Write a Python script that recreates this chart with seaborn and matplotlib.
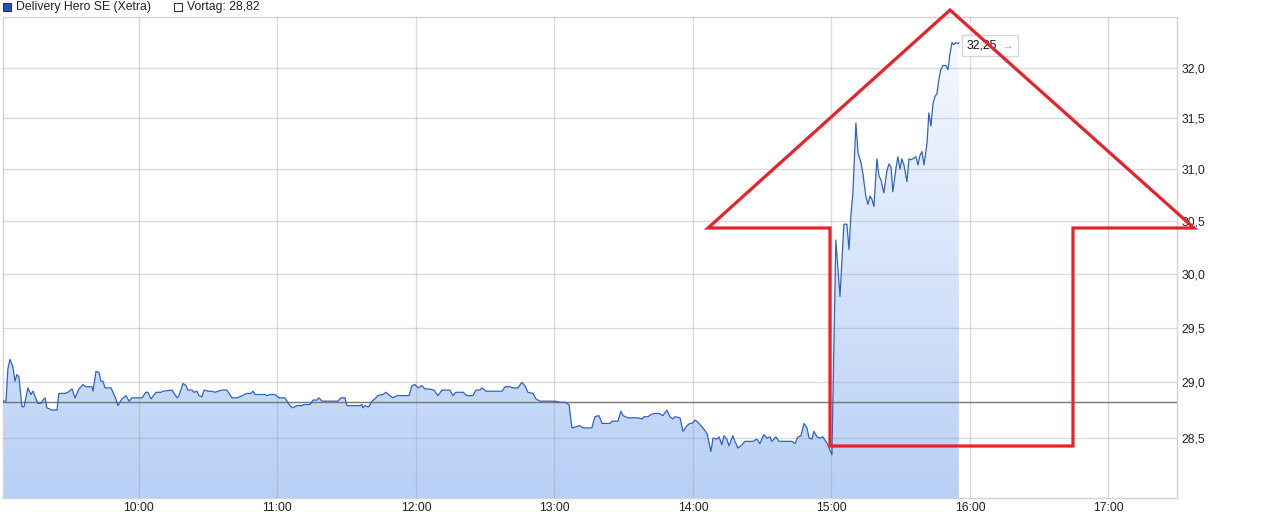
import matplotlib
matplotlib.use("Agg")
import matplotlib.pyplot as plt
import numpy as np
import pandas as pd
import seaborn as sns
from matplotlib.colors import LinearSegmentedColormap
from matplotlib.offsetbox import AnnotationBbox, HPacker, TextArea
from matplotlib.patches import Polygon, Rectangle

# intraday Xetra prices, time given as minutes after 09:00
morning_min = [1.1, 2.4, 3.2, 4.1, 5.4, 6.3, 7.1, 8.0, 9.3, 10.2,
               11.9, 13.2, 14.1, 16.2, 17.5, 18.4, 19.3, 20.1, 22.3, 24.5,
               25.3, 27.9, 29.2, 31.0, 32.3, 34.0, 35.7, 37.0, 39.6, 40.1,
               41.4, 42.7, 43.5, 44.4, 45.3, 47.9, 49.6, 50.9, 52.6, 54.4,
               55.7, 57.0, 61.3, 63.0, 63.9, 65.2, 67.4, 69.5, 70.4, 74.3,
               76.5, 77.3, 79.1, 80.4, 81.2, 83.0, 83.8, 85.1, 86.0, 87.3,
               88.2, 89.9, 91.6, 92.9, 94.2, 96.0, 98.1, 100.3, 102.5, 103.8]
morning_px = [28.83, 28.83, 29.12, 29.21, 29.14, 29.01, 29.07, 29.05, 28.78, 28.78,
              28.95, 28.89, 28.92, 28.81, 28.81, 28.84, 28.86, 28.77, 28.75, 28.75,
              28.90, 28.90, 28.91, 28.94, 28.86, 28.94, 28.98, 28.96, 28.96, 28.92,
              29.10, 29.09, 29.01, 29.01, 28.95, 28.95, 28.87, 28.79, 28.85, 28.88,
              28.83, 28.86, 28.86, 28.91, 28.91, 28.85, 28.91, 28.91, 28.92, 28.93,
              28.86, 28.88, 28.99, 28.97, 28.93, 28.93, 28.91, 28.92, 28.88, 28.87,
              28.93, 28.92, 28.92, 28.91, 28.92, 28.93, 28.93, 28.86, 28.86, 28.87]

midday_min = [104.6, 106.8, 108.5, 109.4, 110.3, 113.3, 114.6, 115.4, 116.8, 118.9,
              120.6, 123.2, 125.4, 126.7, 128.4, 130.6, 131.5, 134.1, 135.4, 137.1,
              138.0, 139.3, 146.2, 147.5, 149.2, 150.1, 155.7, 156.6, 157.0, 157.9,
              158.8, 159.6, 160.9, 162.2, 163.5, 165.7, 167.0, 168.7, 170.0, 171.8,
              177.0, 178.3, 179.6, 180.9, 182.6, 183.9, 185.6, 187.8, 189.5, 191.3,
              194.7, 196.0, 197.3, 200.4, 202.1, 204.7, 206.0, 207.7, 208.6, 210.3,
              217.3, 218.6, 220.7, 222.0, 224.2, 225.9, 227.2, 228.5, 230.7, 232.0,
              233.7, 240.2, 242.4]
midday_px = [28.88, 28.90, 28.90, 28.92, 28.89, 28.89, 28.89, 28.88, 28.89, 28.89,
             28.86, 28.86, 28.79, 28.77, 28.79, 28.79, 28.80, 28.80, 28.84, 28.84,
             28.86, 28.83, 28.83, 28.86, 28.86, 28.79, 28.79, 28.80, 28.77, 28.79,
             28.78, 28.78, 28.83, 28.85, 28.88, 28.89, 28.91, 28.88, 28.86, 28.88,
             28.88, 28.97, 28.98, 28.95, 28.97, 28.94, 28.94, 28.93, 28.88, 28.93,
             28.93, 28.88, 28.91, 28.91, 28.88, 28.88, 28.93, 28.93, 28.95, 28.92,
             28.92, 28.96, 28.96, 28.95, 28.95, 29.00, 28.97, 28.91, 28.90, 28.85,
             28.83, 28.83, 28.82]

afternoon_min = [244.5, 246.3, 247.6, 249.3, 251.0, 252.3, 256.2, 257.5, 259.3, 260.6,
                 264.0, 264.9, 267.5, 268.8, 269.7, 271.8, 276.2, 277.9, 278.8, 280.5,
                 281.8, 283.5, 285.3, 287.0, 288.7, 290.0, 291.3, 292.2, 294.4, 295.7,
                 297.4, 298.7, 299.6, 300.9, 302.2, 304.3, 306.1, 307.8, 308.7, 310.4,
                 311.3, 312.5, 313.4, 314.7, 315.6, 317.3, 318.2, 319.5, 321.2, 322.5,
                 326.0, 327.7, 329.0, 330.7, 332.0, 333.4, 334.2, 335.9, 337.3, 340.7,
                 342.9, 344.2, 345.5, 346.8, 348.1, 349.4, 350.3, 351.5, 352.4, 353.7,
                 355.0, 356.3, 357.2, 358.0]
afternoon_px = [28.82, 28.80, 28.59, 28.60, 28.61, 28.59, 28.59, 28.69, 28.70, 28.63,
                28.63, 28.65, 28.65, 28.74, 28.70, 28.68, 28.68, 28.67, 28.69, 28.69,
                28.71, 28.72, 28.72, 28.70, 28.75, 28.69, 28.67, 28.69, 28.68, 28.56,
                28.61, 28.63, 28.63, 28.66, 28.64, 28.59, 28.54, 28.38, 28.50, 28.49,
                28.51, 28.44, 28.52, 28.49, 28.43, 28.52, 28.47, 28.41, 28.44, 28.47,
                28.47, 28.49, 28.45, 28.53, 28.50, 28.51, 28.47, 28.51, 28.47, 28.47,
                28.47, 28.45, 28.51, 28.52, 28.63, 28.59, 28.50, 28.49, 28.56, 28.51,
                28.50, 28.51, 28.48, 28.46]

rally_min = [360.2, 361.9, 363.7, 365.4, 366.7, 367.6, 368.4, 369.3, 370.6, 371.5,
             372.8, 373.6, 374.9, 375.8, 376.7, 377.5, 378.4, 379.7, 380.6, 381.4,
             382.7, 384.0, 384.9, 385.8, 386.6, 387.9, 388.8, 389.7, 390.5, 391.4,
             392.7, 393.6, 394.4, 395.3, 396.6, 397.5, 398.3, 399.2, 400.1, 401.4,
             402.2, 403.1, 404.0, 404.8, 405.7, 406.6, 407.4, 408.3, 409.6, 410.5,
             411.3, 412.2, 413.0, 413.9, 414.8, 415.2]
rally_px = [28.35, 30.32, 29.79, 30.47, 30.47, 30.23, 30.55, 30.77, 31.45, 31.16,
            31.06, 30.96, 30.74, 30.66, 30.74, 30.71, 30.64, 31.10, 30.93, 30.90,
            30.77, 30.98, 31.05, 31.02, 30.78, 31.00, 31.12, 31.00, 31.10, 31.04,
            30.88, 31.10, 31.09, 31.10, 31.12, 31.04, 31.13, 31.17, 31.04, 31.25,
            31.55, 31.42, 31.64, 31.71, 31.74, 31.89, 31.98, 32.02, 32.02, 31.98,
            32.13, 32.25, 32.23, 32.25, 32.24, 32.25]

prev_close = 28.82
last_label = "32,25"
hour_ticks = [60, 120, 180, 240, 300, 360, 420, 480]
hour_labels = ["10:00", "11:00", "12:00", "13:00", "14:00", "15:00", "16:00", "17:00"]
price_ticks = [28.5, 29.0, 29.5, 30.0, 30.5, 31.0, 31.5, 32.0]

# hand drawn red arrow on top of the chart, figure pixels from top-left
arrow_px = [(708, 228), (950, 10), (1194, 228), (1073, 228),
            (1073, 446), (830, 446), (830, 228)]

W, H = 1268, 521
FS = 8.8

df = pd.DataFrame({
    "t": morning_min + midday_min + afternoon_min + rally_min,
    "price": morning_px + midday_px + afternoon_px + rally_px,
})

sns.set_theme(style="white")
plt.rcParams["font.family"] = ["Liberation Sans", "DejaVu Sans"]

fig = plt.figure(figsize=(W / 100, H / 100), dpi=100)
ax = fig.add_axes([3 / W, 23 / H, 1174 / W, 481 / H])
ax.set_yscale("log")

# gradient area under the line
cmap = LinearSegmentedColormap.from_list("area", ["#f8fbff", "#b8d0f6"])
grad = np.linspace(0, 1, 256).reshape(-1, 1)
im = ax.imshow(grad, cmap=cmap, aspect="auto", extent=[0, 1, 0, 1],
               transform=ax.transAxes, zorder=1, interpolation="bilinear")
area = ax.fill_between(df["t"], df["price"], 27.0, facecolor="none", edgecolor="none")
im.set_clip_path(area.get_paths()[0], transform=ax.transData)

ax.axhline(prev_close, color="#777777", linewidth=1.0, zorder=2.6)
sns.lineplot(data=df, x="t", y="price", ax=ax, color="#2f63c8",
             linewidth=0.9, estimator=None, sort=False, zorder=3)

ax.set_xlim(1.1, 509.7)
ax.set_ylim(27.97, 32.51)

ax.set_xticks(hour_ticks)
ax.set_xticklabels(hour_labels)
ax.yaxis.tick_right()
ax.set_yticks(price_ticks)
ax.yaxis.set_minor_locator(matplotlib.ticker.NullLocator())
ax.set_yticklabels([f"{v:.1f}".replace(".", ",") for v in price_ticks])
ax.tick_params(axis="both", length=0, labelsize=FS, labelcolor="#222222")
ax.tick_params(axis="x", pad=3)
ax.tick_params(axis="y", pad=3)
ax.set_xlabel("")
ax.set_ylabel("")

ax.set_axisbelow(False)
ax.grid(True, which="major", color="#999999", alpha=0.35, linewidth=1.0)
for sp in ax.spines.values():
    sp.set_color("#d4d4d4")
    sp.set_linewidth(1.0)

# last price tag: value plus small grey arrow in one framed box
t_last, p_last = df["t"].iloc[-1], df["price"].iloc[-1]
tag = HPacker(children=[
    TextArea(last_label, textprops=dict(fontsize=FS, color="#111111")),
    TextArea("\u2192", textprops=dict(fontsize=FS, color="#b0b0b0", fontweight="bold")),
], align="center", pad=0, sep=3)
ab = AnnotationBbox(tag, (t_last, p_last), xybox=(8, -3), boxcoords="offset pixels",
                    box_alignment=(0, 0.5), frameon=True, pad=0.3,
                    bboxprops=dict(boxstyle="square", fc="white", ec="#d6d6d6", lw=1.0),
                    annotation_clip=False, zorder=5)
ax.add_artist(ab)

# legend row above the plot
fig.patches.append(Rectangle((3 / W, 1 - 11 / H), 8 / W, 8 / H, transform=fig.transFigure,
                             fc="#1f56c2", ec="#333333", lw=0.8))
fig.text(16 / W, 1 - 7 / H, "Delivery Hero SE (Xetra)", fontsize=FS,
         color="#222222", va="center", ha="left")
fig.patches.append(Rectangle((174 / W, 1 - 11 / H), 8 / W, 8 / H, transform=fig.transFigure,
                             fc="white", ec="#333333", lw=0.8))
fig.text(187 / W, 1 - 7 / H, "Vortag: " + f"{prev_close:.2f}".replace(".", ","), fontsize=FS,
         color="#222222", va="center", ha="left")

# red arrow overlay
pts = [(x / W, 1 - y / H) for x, y in arrow_px]
fig.patches.append(Polygon(pts, closed=True, fill=False, ec="#e8212a", lw=2.3,
                           joinstyle="miter", transform=fig.transFigure, zorder=10))

fig.savefig("out.png", dpi=100, facecolor="white")
